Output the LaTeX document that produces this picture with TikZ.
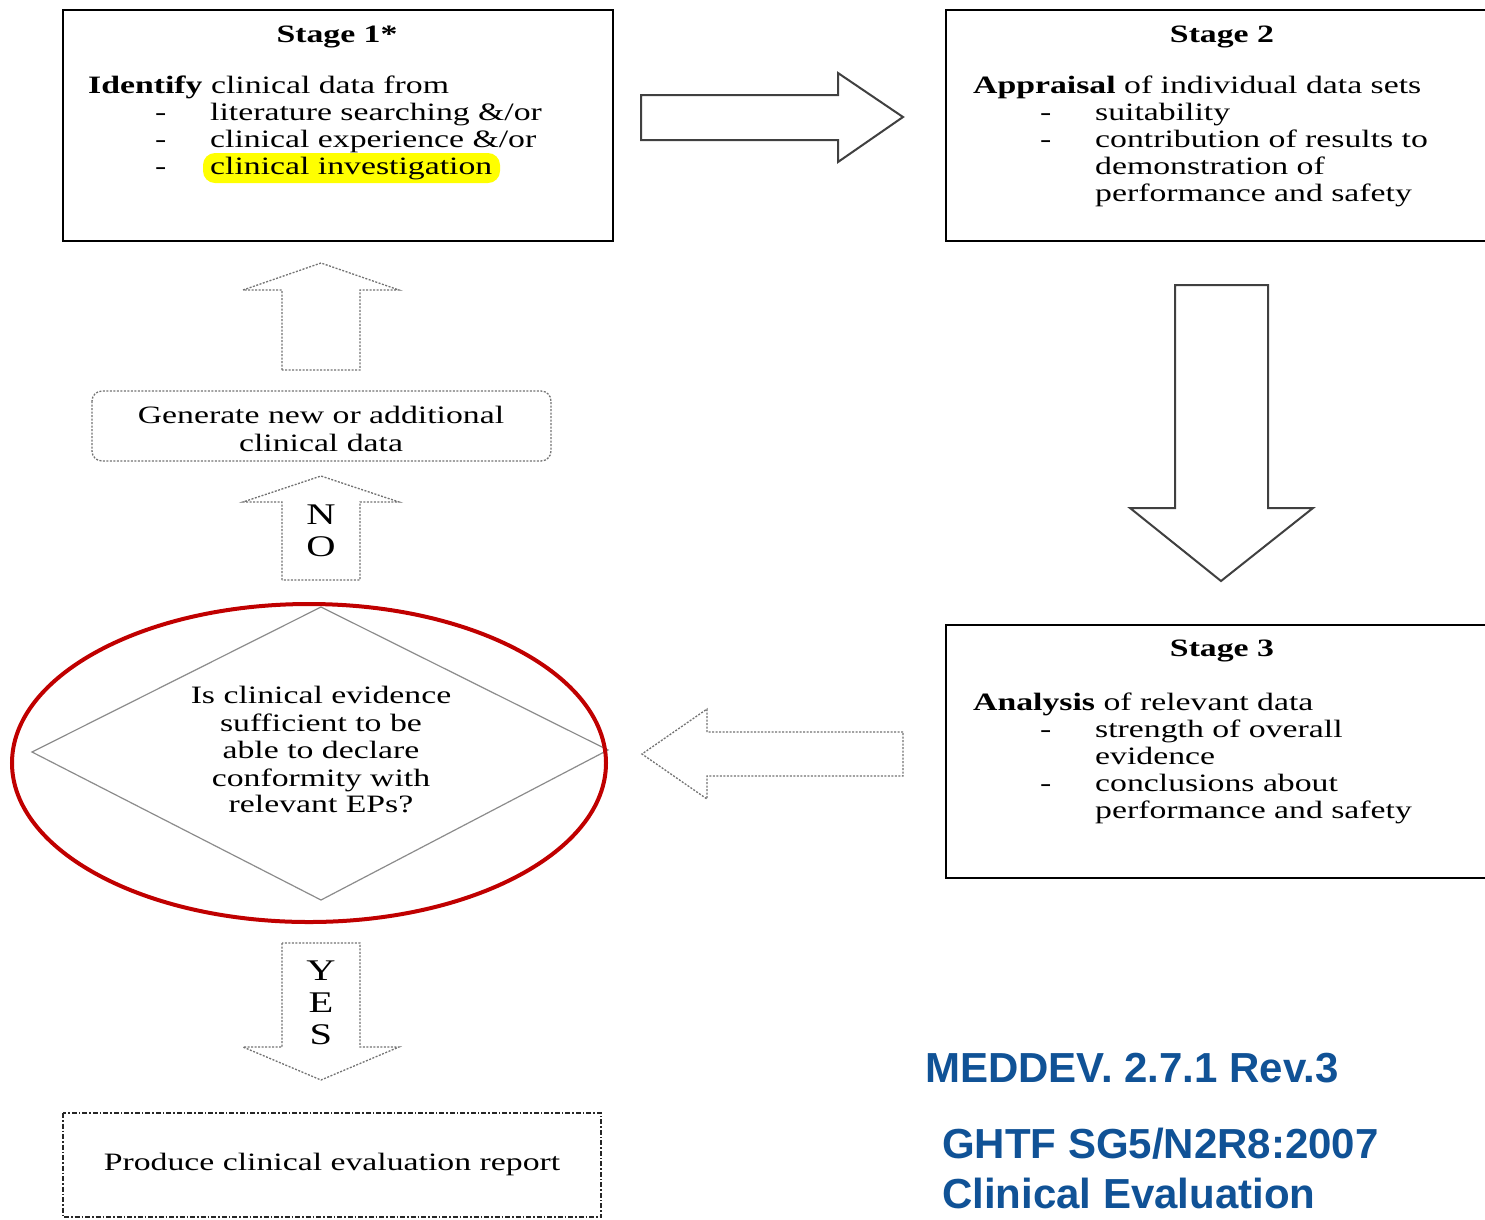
\documentclass[tikz,border=0pt]{standalone}
\usepackage{fontspec}
\setmainfont{Liberation Serif}[FakeStretch=1.35]
\newfontfamily\labelsans{Liberation Sans}
\definecolor{refblue}{RGB}{16,82,150}
\definecolor{refred}{RGB}{192,0,0}
\definecolor{hl}{RGB}{255,255,0}
\newcommand\itm[1]{\makebox[122pt][l]{\hspace*{67pt}-}#1}
\newcommand\cont[1]{\hspace*{122pt}#1}
\begin{document}
\begin{tikzpicture}[x=1pt,y=-1pt,
  body/.style={font=\fontsize{25}{27}\selectfont, inner sep=0pt, align=left, anchor=base west},
  title/.style={font=\fontsize{25}{27}\selectfont\bfseries, inner sep=0pt, anchor=base},
  ctext/.style={font=\fontsize{25}{27}\selectfont, inner sep=0pt, align=center},
  stagebox/.style={draw=black, line width=2pt},
  solidarrow/.style={draw=black!75, line width=2pt, fill=white, line join=miter},
  dasharrow/.style={draw=black!55, line width=1.3pt, dash pattern=on 2pt off 1.5pt, fill=white},
  letter/.style={font=\fontsize{30}{32}\selectfont, inner sep=0pt, anchor=base},
  bluetext/.style={font=\labelsans\bfseries\fontsize{42}{46}\selectfont, text=refblue, inner sep=0pt, anchor=base west}]
\useasboundingbox (0,0) rectangle (1485,1219);
\fill[white] (0,0) rectangle (1485,1219);

% Stage 1 (base anchor of a multi-line node = last line's baseline)
\draw[stagebox] (63,10) rectangle (613,241);
\fill[hl, rounded corners=12pt] (203,153) rectangle (500,183);
\node[title] (s1t) at (337,42) {Stage 1*};
\node[body] (s1b) at (88,174) {\textbf{Identify} clinical data from\\
  \itm{literature searching \&/or}\\
  \itm{clinical experience \&/or}\\
  \itm{clinical investigation}};

% Stage 2
\draw[stagebox] (1490,10) -- (946,10) -- (946,241) -- (1490,241);
\node[title] (s2t) at (1222,42) {Stage 2};
\node[body] (s2b) at (973,201) {\textbf{Appraisal} of individual data sets\\
  \itm{suitability}\\
  \itm{contribution of results to}\\
  \cont{demonstration of}\\
  \cont{performance and safety}};

% Stage 3
\draw[stagebox] (1490,625) -- (946,625) -- (946,878) -- (1490,878);
\node[title] (s3t) at (1222,656) {Stage 3};
\node[body] (s3b) at (973,818) {\textbf{Analysis} of relevant data\\
  \itm{strength of overall}\\
  \cont{evidence}\\
  \itm{conclusions about}\\
  \cont{performance and safety}};

% solid arrows
\draw[solidarrow] (641,95) coordinate (ra) -- (838,95) -- (838,73) -- (903,117) coordinate (rb) -- (838,162) -- (838,140) -- (641,140) -- cycle;
\draw[solidarrow] (1175,285) coordinate (da) -- (1268,285) -- (1268,508) -- (1313,508) -- (1221,581) coordinate (db) -- (1130,508) -- (1175,508) -- cycle;

% dashed arrows
\draw[dasharrow] (903,732) -- (707,732) -- (707,709) -- (642,754) coordinate (la) -- (707,799) -- (707,776) -- (903,776) -- cycle;
\draw[dasharrow] (282,370) -- (282,290) -- (243,290) -- (321,263) coordinate (ua) -- (399,290) -- (360,290) -- (360,370) -- cycle;
\draw[dasharrow] (282,580) -- (282,502) -- (243,502) -- (321,476) coordinate (na) -- (399,502) -- (360,502) -- (360,580) -- cycle;
\draw[dasharrow] (282,943) -- (282,1047) -- (243,1047) -- (321,1080) coordinate (ya) -- (399,1047) -- (360,1047) -- (360,943) -- cycle;
\node[letter] (n1) at (321,524) {N};
\node[letter] (n2) at (321,556) {O};
\node[letter] (y1) at (321,980) {Y};
\node[letter] (y2) at (321,1012) {E};
\node[letter] (y3) at (321,1044) {S};

% generate box
\draw[draw=black!55, line width=1.3pt, dash pattern=on 2pt off 1.5pt, rounded corners=10pt] (92,391) rectangle (551,461);
\node[ctext, anchor=base] (gen1) at (321,423) {Generate new or additional};
\node[ctext, anchor=base] (gen2) at (321,451) {clinical data};

% decision diamond
\draw[black!45, line width=1.2pt] (321,607) coordinate (dt) -- (608,750) coordinate (dr) -- (321,900) coordinate (db2) -- (32,752) coordinate (dl) -- cycle;
\node[ctext, anchor=base] (q1) at (321,703) {Is clinical evidence};
\node[ctext, anchor=base] (q2) at (321,731) {sufficient to be};
\node[ctext, anchor=base] (q3) at (321,758) {able to declare};
\node[ctext, anchor=base] (q4) at (321,786) {conformity with};
\node[ctext, anchor=base] (q5) at (321,812) {relevant EPs?};
\draw[refred, line width=4pt] (309,763) ellipse [x radius=297, y radius=159];

% produce box
\draw[black!85, line width=1.6pt, dash pattern=on 5pt off 2pt on 1.5pt off 2pt] (63,1113) rectangle (601,1217);
\node[ctext, anchor=base] (rep) at (332,1170) {Produce clinical evaluation report};

% blue labels
\node[bluetext] (m1) at (925,1082) {MEDDEV. 2.7.1 Rev.3};
\node[bluetext] (m2) at (942,1158) {GHTF SG5/N2R8:2007};
\node[bluetext] (m3) at (942,1208) {Clinical Evaluation};
\end{tikzpicture}
\end{document}
